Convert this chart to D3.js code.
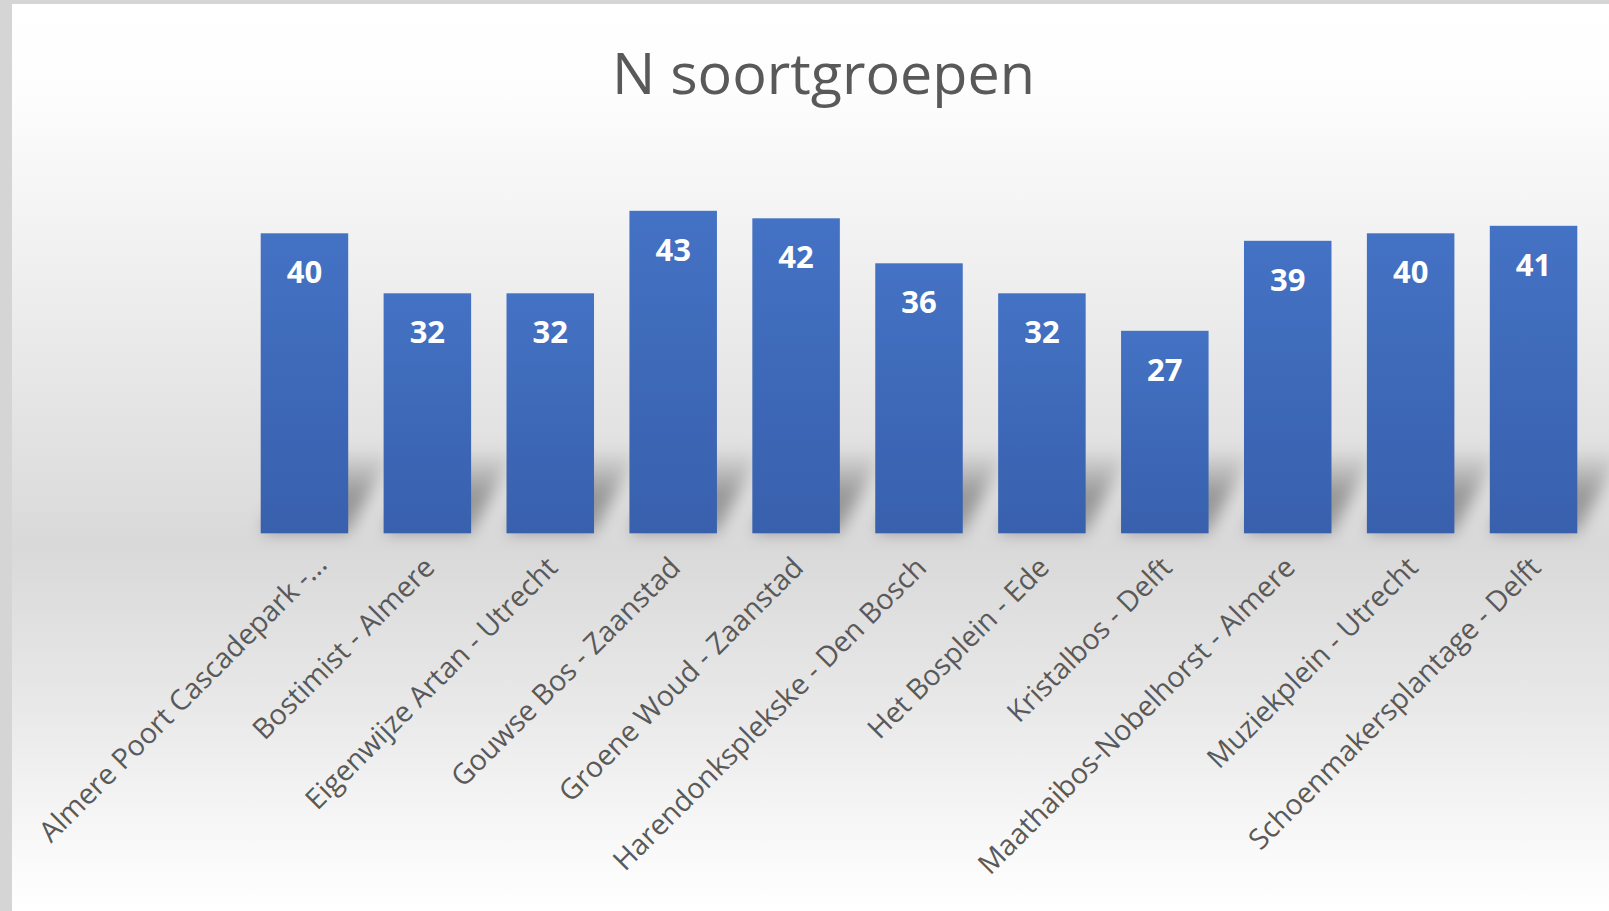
<!DOCTYPE html>
<html>
<head>
<meta charset="utf-8">
<script src="https://cdn.jsdelivr.net/npm/d3@7"></script>
<style>
	html, body { margin: 0; padding: 0; background: #ffffff; }
	#wrapper svg { display: block; }
</style>
</head>
<body>
<div id="wrapper"></div>
<script>
/////////////////////////////////////////////////
// data /////////////////////////////////////////
/////////////////////////////////////////////////

const chartTitle = "N soortgroepen";

const categories = [
	"Almere Poort Cascadepark -...",
	"Bostimist - Almere",
	"Eigenwijze Artan - Utrecht",
	"Gouwse Bos - Zaanstad",
	"Groene Woud - Zaanstad",
	"Harendonksplekske - Den Bosch",
	"Het Bosplein - Ede",
	"Kristalbos - Delft",
	"Maathaibos-Nobelhorst - Almere",
	"Muziekplein - Utrecht",
	"Schoenmakersplantage - Delft"
];

const values = [40, 32, 32, 43, 42, 36, 32, 27, 39, 40, 41];

const yDomain = [0, 50];

const data = categories.map((c, i) => ({ name: c, value: values[i] }));

const createChart = () => {
	/////////////////////////////////////////////////
	// dimensions ///////////////////////////////////
	/////////////////////////////////////////////////

	let dimensions = {
		width: 1609,
		height: 911,
		frame: { left: 12, top: 4 },
		plot: { left: 243, right: 1595, top: 158.3, bottom: 533.3 }
	};

	const wrapper = d3
		.select("#wrapper")
		.append("svg")
		.attr("width", dimensions.width)
		.attr("height", dimensions.height);

	const defs = wrapper.append("defs");

	// chart area background, white -> grey at the axis -> white
	const bg = defs
		.append("linearGradient")
		.attr("id", "bgGrad")
		.attr("x1", 0).attr("y1", 0).attr("x2", 0).attr("y2", 1);
	[
		[0, "#ffffff"],
		[0.1, "#fdfdfd"],
		[0.27, "#f1f1f1"],
		[0.45, "#e4e4e4"],
		[0.6, "#d9d9d9"],
		[0.77, "#e8e8e8"],
		[0.93, "#f9f9f9"],
		[1, "#ffffff"]
	].forEach(([o, c]) => bg.append("stop").attr("offset", o).attr("stop-color", c));

	const barGrad = defs
		.append("linearGradient")
		.attr("id", "barGrad")
		.attr("x1", 0).attr("y1", 0).attr("x2", 0).attr("y2", 1);
	barGrad.append("stop").attr("offset", 0).attr("stop-color", "#4472c4");
	barGrad.append("stop").attr("offset", 1).attr("stop-color", "#3860ad");

	const shadowGrad = defs
		.append("linearGradient")
		.attr("id", "shadowGrad")
		.attr("x1", 0).attr("y1", 1).attr("x2", 0).attr("y2", 0);
	shadowGrad.append("stop").attr("offset", 0).attr("stop-color", "#000").attr("stop-opacity", 0.3);
	shadowGrad.append("stop").attr("offset", 0.45).attr("stop-color", "#000").attr("stop-opacity", 0.32);
	shadowGrad.append("stop").attr("offset", 1).attr("stop-color", "#000").attr("stop-opacity", 0);

	defs
		.append("filter")
		.attr("id", "blur")
		.attr("x", "-50%").attr("y", "-50%").attr("width", "200%").attr("height", "200%")
		.append("feGaussianBlur")
		.attr("stdDeviation", 8);

	/////////////////////////////////////////////////
	// frame ////////////////////////////////////////
	/////////////////////////////////////////////////

	wrapper
		.append("rect")
		.attr("width", dimensions.width)
		.attr("height", dimensions.height)
		.attr("fill", "#d5d5d5");

	wrapper
		.append("rect")
		.attr("x", dimensions.frame.left)
		.attr("y", dimensions.frame.top)
		.attr("width", dimensions.width - dimensions.frame.left)
		.attr("height", dimensions.height - dimensions.frame.top)
		.attr("fill", "url(#bgGrad)");

	/////////////////////////////////////////////////
	// scales ///////////////////////////////////////
	/////////////////////////////////////////////////

	const xScale = d3
		.scaleBand()
		.domain(categories)
		.range([dimensions.plot.left, dimensions.plot.right])
		.paddingInner(0.288)
		.paddingOuter(0.144);

	const yScale = d3
		.scaleLinear()
		.domain(yDomain)
		.range([dimensions.plot.bottom, dimensions.plot.top]);

	/////////////////////////////////////////////////
	// title ////////////////////////////////////////
	/////////////////////////////////////////////////

	wrapper
		.append("text")
		.attr("class", "title")
		.text(chartTitle)
		.attr("x", 823.5)
		.attr("y", 94)
		.style("text-anchor", "middle")
		.style("font-family", "'Open Sans', sans-serif")
		.style("font-size", "57.5px")
		.style("fill", "#595959");

	/////////////////////////////////////////////////
	// bars /////////////////////////////////////////
	/////////////////////////////////////////////////

	const bounds = wrapper.append("g");

	// soft perspective shadow behind every bar
	const shadowH = 85;
	const shadowDx = 45;
	bounds
		.append("g")
		.attr("filter", "url(#blur)")
		.selectAll("path")
		.data(data)
		.join("path")
		.attr("d", (d) => {
			const x0 = xScale(d.name);
			const x1 = x0 + xScale.bandwidth();
			const b = yScale(0);
			return `M${x0},${b}L${x1},${b}L${x1 + shadowDx},${b - shadowH}L${x0 + shadowDx},${b - shadowH}Z`;
		})
		.attr("fill", "url(#shadowGrad)");

	bounds
		.append("g")
		.selectAll("rect")
		.data(data)
		.join("rect")
		.attr("x", (d) => xScale(d.name))
		.attr("y", (d) => yScale(d.value))
		.attr("width", xScale.bandwidth())
		.attr("height", (d) => yScale(0) - yScale(d.value))
		.attr("fill", "url(#barGrad)");

	// value labels, inside end
	bounds
		.append("g")
		.selectAll("text")
		.data(data)
		.join("text")
		.text((d) => d.value)
		.attr("x", (d) => xScale(d.name) + xScale.bandwidth() / 2)
		.attr("y", (d) => yScale(d.value) + 50)
		.style("text-anchor", "middle")
		.style("font-family", "'Open Sans', sans-serif")
		.style("font-weight", "bold")
		.style("font-size", "31px")
		.style("fill", "#ffffff");

	/////////////////////////////////////////////////
	// axis /////////////////////////////////////////
	/////////////////////////////////////////////////

	const xAxisGenerator = d3.axisBottom().scale(xScale).tickSize(0).tickPadding(0);

	const xAxis = bounds
		.append("g")
		.attr("class", "xaxis")
		.attr("transform", `translate(0,${dimensions.plot.bottom})`)
		.call(xAxisGenerator);

	xAxis.select(".domain").remove();

	xAxis
		.selectAll(".tick text")
		.attr("x", 0)
		.attr("y", 0)
		.attr("dy", null)
		// the truncated first label sits a little further out
		.attr("transform", (d, i) => (i === 0 ? "translate(24,33) rotate(-45)" : "translate(9,36) rotate(-45)"))
		.style("text-anchor", "end")
		.style("font-family", "'Open Sans', sans-serif")
		.style("font-size", "28.5px")
		.style("fill", "#595959");
};

createChart();
</script>
</body>
</html>
